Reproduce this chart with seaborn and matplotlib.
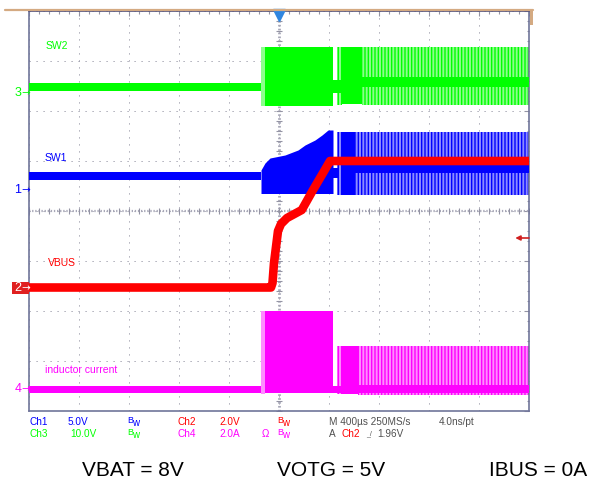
import matplotlib

matplotlib.use("Agg")
import matplotlib.pyplot as plt
import numpy as np
import seaborn as sns
from matplotlib.lines import Line2D
from matplotlib.patches import Rectangle

W, H = 589, 484

# time in microseconds (400 us/div, trigger at centre), vertical in scope divisions
T_MIN, T_MAX = -2000, 2000

# SW2 (ch3, green): (t0, t1, low, high)
sw2_solid = [(-2000, -144, 6.40, 6.56), (-112, 432, 6.10, 7.29), (432, 504, 6.36, 6.62),
             (504, 664, 6.14, 7.28), (664, 2000, 6.48, 6.68)]
sw2_faint = [(-144, -112, 6.10, 7.29)]
sw2_sparse = [(464, 504, 6.12, 7.28), (664, 2000, 6.12, 7.28)]

# SW1 (ch1, blue)
sw1_solid = [(-2000, -144, 4.62, 4.78), (432, 472, 4.66, 4.86), (504, 608, 4.32, 5.58),
             (608, 2000, 4.76, 4.92)]
sw1_sparse = [(464, 504, 4.32, 5.58), (608, 2000, 4.32, 5.58)]
sw1_ramp_t = [-144, -112, -72, 48, 152, 208, 288, 344, 392, 432]
sw1_ramp_hi = [4.82, 4.96, 5.06, 5.12, 5.22, 5.32, 5.42, 5.52, 5.62, 5.62]
sw1_ramp_lo = 4.35

# VBUS (ch2, red)
vbus_t = [-2000, -64, -52, -40, -20, -8, 16, 64, 182, 272, 352, 408, 432, 2000]
vbus_v = [2.47, 2.47, 2.56, 2.96, 3.36, 3.60, 3.74, 3.86, 4.02, 4.42, 4.76, 5.00, 5.00, 5.00]

# inductor current (ch4, magenta)
ind_solid = [(-2000, -144, 0.37, 0.51), (-112, 432, 0.36, 2.00), (432, 504, 0.37, 0.51),
             (504, 632, 0.34, 1.30), (632, 2000, 0.37, 0.52)]
ind_faint = [(-144, -112, 0.34, 2.00)]
ind_sparse = [(464, 504, 0.34, 1.30), (632, 2000, 0.32, 1.30)]

trig_level = 3.46

GREEN, GREEN_L = "#00ff00", "#8cff8c"
BLUE, BLUE_L = "#0000ff", "#8c8cff"
RED = "#ff0000"
MAG, MAG_L = "#ff00ff", "#ff8cff"
GRID = "#9494a4"
GRAY_TXT = "#505050"


def px(x, y):
    return x / W, 1 - y / H


def draw_bands(ax, solid, faint, sparse, color, light):
    for t0, t1, lo, hi in sparse:
        ax.fill_between([t0, t1], lo, hi, facecolor=light, edgecolor=color,
                        hatch="|||||", linewidth=0, zorder=2)
    for t0, t1, lo, hi in faint:
        ax.fill_between([t0, t1], lo, hi, color=light, linewidth=0, zorder=2)
    for t0, t1, lo, hi in solid:
        ax.fill_between([t0, t1], lo, hi, color=color, linewidth=0, zorder=3)


def main() -> None:
    sns.set_style("white")
    plt.rcParams["font.family"] = ["Liberation Sans", "DejaVu Sans"]
    plt.rcParams["hatch.linewidth"] = 1.0

    fig = plt.figure(figsize=(W / 100, H / 100), dpi=100)
    ax = fig.add_axes([29 / W, (H - 411) / H, 500 / W, 400 / H])
    ax.set_xlim(T_MIN, T_MAX)
    ax.set_ylim(0, 8)

    # graticule
    ax.set_xticks(np.arange(T_MIN, T_MAX + 1, 400))
    ax.set_yticks(np.arange(0, 9, 1))
    ax.set_xticks(np.arange(T_MIN, T_MAX + 1, 80), minor=True)
    ax.set_yticks(np.arange(0, 8.01, 0.2), minor=True)
    ax.grid(True, which="major", color=GRID, linestyle=(0, (1.2, 6.0)), linewidth=0.7)
    ax.tick_params(which="both", direction="in", top=True, right=True, labelbottom=False,
                   labelleft=False, color=GRID, width=0.8)
    ax.tick_params(which="major", length=3.5)
    ax.tick_params(which="minor", length=1.8)
    for sp in ax.spines.values():
        sp.set_color("#70759a")
        sp.set_linewidth(1.2)
    ax.spines["top"].set_color("#4a4a78")

    ax.axvline(0, color="#a8a8b8", lw=2.0, linestyle=(0, (0.6, 0.8)), zorder=1)
    ax.axhline(4, color="#a8a8b8", lw=1.6, linestyle=(0, (0.6, 0.8)), zorder=1)
    ax.plot(np.zeros(41), np.arange(0, 8.01, 0.2), ls="none", marker="_", ms=4.5,
            mew=0.8, color=GRID, zorder=1)
    ax.plot(np.arange(T_MIN, T_MAX + 1, 80), np.full(51, 4.0), ls="none", marker="|",
            ms=4.5, mew=0.8, color=GRID, zorder=1)

    # traces
    draw_bands(ax, sw2_solid, sw2_faint, sw2_sparse, GREEN, GREEN_L)
    draw_bands(ax, sw1_solid, [], sw1_sparse, BLUE, BLUE_L)
    ax.fill_between(sw1_ramp_t, sw1_ramp_lo, sw1_ramp_hi, color=BLUE, linewidth=0, zorder=3)
    draw_bands(ax, ind_solid, ind_faint, ind_sparse, MAG, MAG_L)
    sns.lineplot(x=vbus_t, y=vbus_v, sort=False, estimator=None, color=RED, linewidth=6.2,
                 solid_capstyle="butt", ax=ax, zorder=4)

    # trigger markers
    ax.plot(0, 7.93, marker="v", ms=8, color="#2f86e0", clip_on=False, zorder=6)
    ax.annotate("", xy=(1890, trig_level), xytext=(2000, trig_level),
                arrowprops=dict(arrowstyle="-|>", color="#d02020", lw=1.2,
                                mutation_scale=7, shrinkA=0, shrinkB=0))

    # top bezel
    fig.add_artist(Line2D([5 / W, 533 / W], [1 - 9.8 / H] * 2, color="#d4aa82", lw=1.6))
    fig.add_artist(Rectangle(px(530, 25), 3 / W, 15 / H, color="#d4aa82", lw=0))

    # trace names
    fig.text(*px(46, 46), "SW2", color=GREEN, fontsize=7.5, va="center")
    fig.text(*px(45, 158), "SW1", color=BLUE, fontsize=7.5, va="center")
    fig.text(*px(48, 263), "VBUS", color=RED, fontsize=7.5, va="center")
    fig.text(*px(45, 370), "inductor current", color=MAG, fontsize=7.5, va="center")

    # channel ground markers
    fig.add_artist(Rectangle(px(12, 294), 17 / W, 12 / H, color="#e02020", lw=0))
    for y, label, c in [(93, "3", GREEN), (190, "1", BLUE), (389, "4", MAG), (288, "2", "white")]:
        fig.text(*px(21.5, y), label, color=c, fontsize=9, ha="right", va="center")
        fig.text(*px(21.5, y), "→", color=c, fontsize=7.5, va="center", family=["DejaVu Sans"])

    # readout
    fs = 7.2
    row1, row2 = 422, 434
    fig.text(*px(29, row1), "Ch1", color=BLUE, fontsize=fs, va="center")
    fig.text(*px(68, row1), "5.0V", color=BLUE, fontsize=fs, va="center")
    fig.text(*px(178, row1), "Ch2", color=RED, fontsize=fs, va="center")
    fig.text(*px(219, row1), "2.0V", color=RED, fontsize=fs, va="center")
    fig.text(*px(329, row1), "M 400µs 250MS/s", color=GRAY_TXT, fontsize=fs, va="center")
    fig.text(*px(439, row1), "4.0ns/pt", color=GRAY_TXT, fontsize=fs, va="center")
    fig.text(*px(29, row2), "Ch3", color=GREEN, fontsize=fs, va="center")
    fig.text(*px(70, row2), "10.0V", color=GREEN, fontsize=fs, va="center")
    fig.text(*px(178, row2), "Ch4", color=MAG, fontsize=fs, va="center")
    fig.text(*px(219, row2), "2.0A", color=MAG, fontsize=fs, va="center")
    fig.text(*px(262, row2), "Ω", color=MAG, fontsize=fs, va="center")
    fig.text(*px(329, row2), "A", color=GRAY_TXT, fontsize=fs, va="center")
    fig.text(*px(341, row2), "Ch2", color=RED, fontsize=fs, va="center")
    fig.text(*px(366, row2), "_/", color=GRAY_TXT, fontsize=5, va="center")
    fig.text(*px(377, row2), "1.96V", color=GRAY_TXT, fontsize=fs, va="center")
    for x, y, c in [(127, row1, BLUE), (277, row1, RED), (127, row2, GREEN), (277, row2, MAG)]:
        fig.text(*px(x, y - 1.5), "B", color=c, fontsize=6.5, va="center")
        fig.text(*px(x + 5, y + 1), "w", color=c, fontsize=7, va="center")

    # test conditions
    fig.text(*px(82, 471), "VBAT = 8V", color="black", fontsize=15, va="center")
    fig.text(*px(277, 471), "VOTG = 5V", color="black", fontsize=15, va="center")
    fig.text(*px(489, 471), "IBUS = 0A", color="black", fontsize=15, va="center")

    fig.savefig("out.png", dpi=100)
    plt.close(fig)


if __name__ == "__main__":
    main()
